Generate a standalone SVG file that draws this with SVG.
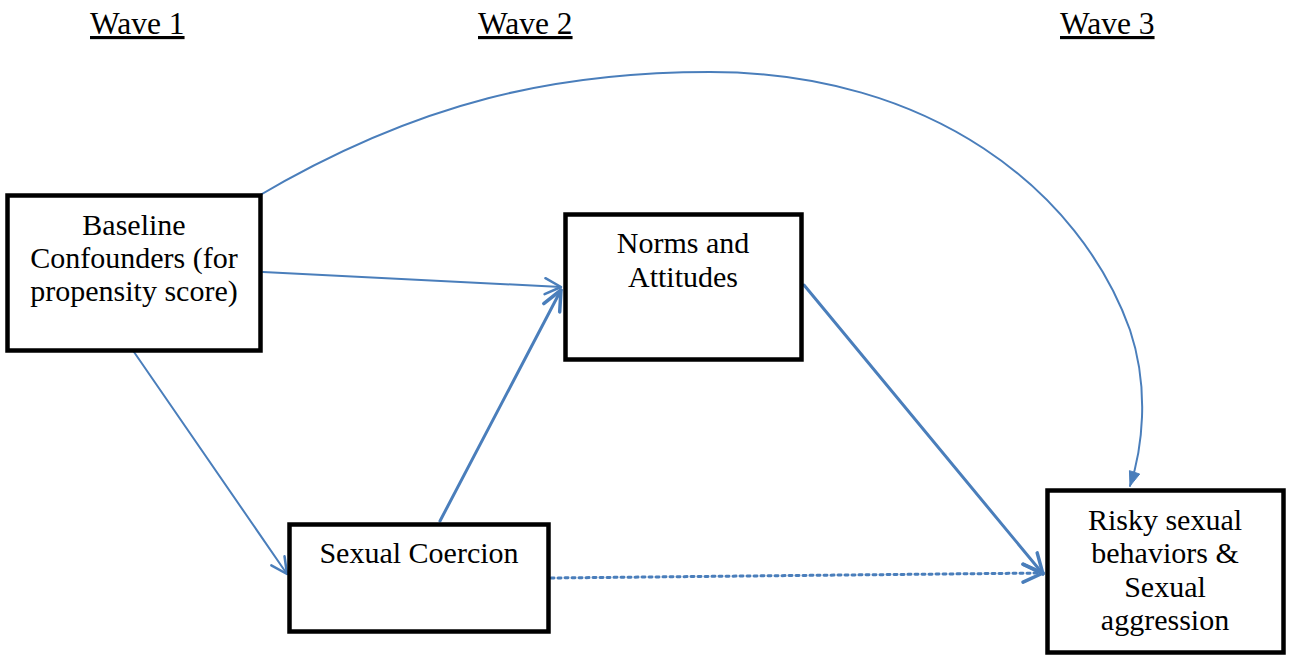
<svg xmlns="http://www.w3.org/2000/svg" width="1290" height="656" viewBox="0 0 1290 656">
<style>
.box{fill:#fff;stroke:#000;stroke-width:4.5}
.t{font-family:"Liberation Serif","Times New Roman",serif;font-size:30px;fill:#000;text-anchor:middle}
.h{font-family:"Liberation Serif","Times New Roman",serif;font-size:31.5px;fill:#000;text-decoration:underline}
.c{fill:none;stroke:#4A7EBB;stroke-linecap:round}
.thin{stroke-width:2}
.thick{stroke-width:3}
</style>
<defs>
<marker id="ao" viewBox="0 0 20 20" refX="18" refY="10" markerWidth="20" markerHeight="20" markerUnits="userSpaceOnUse" orient="auto">
<path d="M2,2 L18,10 L2,18" fill="none" stroke="#4A7EBB" stroke-width="2.5" stroke-linecap="round" stroke-linejoin="round"/>
</marker>
<marker id="aot" viewBox="0 0 24 24" refX="22" refY="12" markerWidth="24" markerHeight="24" markerUnits="userSpaceOnUse" orient="auto">
<path d="M2,3 L22,12 L2,21" fill="none" stroke="#4A7EBB" stroke-width="3.5" stroke-linecap="round" stroke-linejoin="round"/>
</marker>
<marker id="af" viewBox="0 0 20 20" refX="18" refY="10" markerWidth="18" markerHeight="18" markerUnits="userSpaceOnUse" orient="auto">
<path d="M2,4 L18,10 L2,16 Z" fill="#4A7EBB" stroke="#4A7EBB" stroke-width="1"/>
</marker>
</defs>
<g id="headers">
<text class="h" x="90" y="34">Wave 1</text>
<text class="h" x="478" y="34">Wave 2</text>
<text class="h" x="1060" y="34">Wave 3</text>
</g>
<g id="connectors">
<path class="c thin" d="M255,198 C420,100 560,72 710,72 C930,72 1080,190 1130,330 C1150,390 1142,450 1130,486" marker-end="url(#af)"/>
<line class="c thin" x1="263" y1="272" x2="561" y2="287" marker-end="url(#ao)"/>
<line class="c thin" x1="134" y1="352" x2="287" y2="574" marker-end="url(#ao)"/>
<line class="c thick" x1="440" y1="521" x2="561" y2="290" marker-end="url(#aot)"/>
<line class="c thick" x1="804" y1="285" x2="1043" y2="574" marker-end="url(#aot)"/>
<line class="c thick" x1="551" y1="578" x2="1043" y2="573" stroke-dasharray="3 4" stroke-linecap="butt" marker-end="url(#aot)"/>
</g>
<g id="baseline">
<rect class="box" x="7.5" y="195.5" width="253" height="155"/>
<text class="t" x="134" y="235">Baseline</text>
<text class="t" x="134" y="268">Confounders (for</text>
<text class="t" x="134" y="301">propensity score)</text>
</g>
<g id="norms">
<rect class="box" x="565.5" y="214.5" width="236" height="145"/>
<text class="t" x="683" y="253">Norms and</text>
<text class="t" x="683" y="287">Attitudes</text>
</g>
<g id="coercion">
<rect class="box" x="289.5" y="524.5" width="259" height="107"/>
<text class="t" x="419" y="563">Sexual Coercion</text>
</g>
<g id="risky">
<rect class="box" x="1047.5" y="490.5" width="236" height="162"/>
<text class="t" x="1165" y="530">Risky sexual</text>
<text class="t" x="1165" y="563">behaviors &amp;</text>
<text class="t" x="1165" y="597">Sexual</text>
<text class="t" x="1165" y="630">aggression</text>
</g>
</svg>
